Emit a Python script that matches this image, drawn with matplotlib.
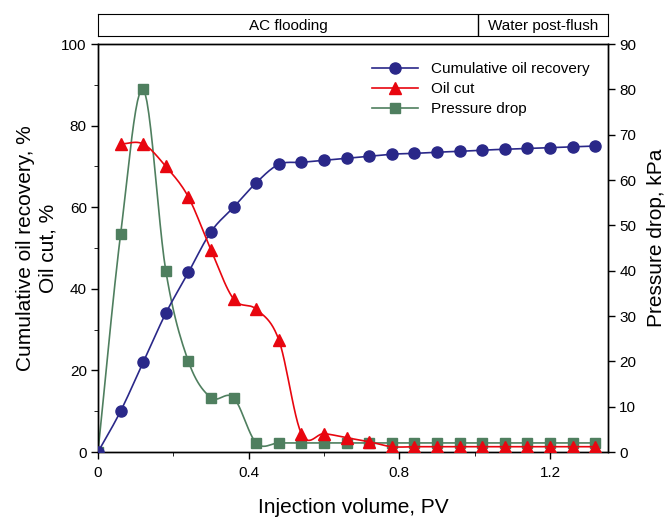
import matplotlib.pyplot as plt
import numpy as np
from matplotlib.lines import Line2D

plt.rcParams['font.family'] = ['Liberation Sans', 'DejaVu Sans']

pv = np.round(np.arange(23) * 0.06, 2)
recovery = [0, 10, 22, 34, 44, 54, 60, 66, 70.5, 71, 71.5, 72, 72.5, 73, 73.2,
            73.5, 73.7, 74, 74.2, 74.4, 74.6, 74.8, 75]
pv_cut = pv[1:]
oil_cut = [75.5, 75.5, 70, 62.5, 49.5, 37.5, 35, 27.5, 4.5, 4.5, 3.5, 2.5, 1.3,
           1.3, 1.3, 1.3, 1.3, 1.3, 1.3, 1.3, 1.3, 1.3]
pressure = [0, 48, 80, 40, 20, 12, 12, 2, 2, 2, 2, 2, 2, 2, 2, 2, 2, 2, 2, 2, 2, 2, 2]

navy = "#2a2889"
red = "#e8060f"
green = "#4f7f5f"


def smooth(x, y, n=12):
    # catmull-rom through the points, only for drawing the curve
    x = np.asarray(x, float)
    y = np.asarray(y, float)
    px = np.concatenate([[2 * x[0] - x[1]], x, [2 * x[-1] - x[-2]]])
    py = np.concatenate([[2 * y[0] - y[1]], y, [2 * y[-1] - y[-2]]])
    xs, ys = [], []
    t = np.linspace(0, 1, n, endpoint=False)
    for i in range(1, len(px) - 2):
        for p, out in ((px, xs), (py, ys)):
            p0, p1, p2, p3 = p[i - 1], p[i], p[i + 1], p[i + 2]
            out.extend(0.5 * ((2 * p1) + (-p0 + p2) * t +
                              (2 * p0 - 5 * p1 + 4 * p2 - p3) * t ** 2 +
                              (-p0 + 3 * p1 - 3 * p2 + p3) * t ** 3))
    xs.append(x[-1])
    ys.append(y[-1])
    return np.array(xs), np.array(ys)


fig = plt.figure(figsize=(6.72, 5.18), dpi=100)
ax = fig.add_axes([0.1458, 0.1274, 0.759, 0.7876])
ax2 = ax.twinx()

ax.plot(*smooth(pv, recovery), color=navy, lw=1.2, zorder=3)
ax.plot(pv, recovery, "o", color=navy, ms=8, zorder=4)
ax.plot(*smooth(pv_cut, oil_cut), color=red, lw=1.2, zorder=3)
ax.plot(pv_cut, oil_cut, "^", color=red, ms=9, zorder=4)
ax2.plot(*smooth(pv, pressure), color=green, lw=1.2)
ax2.plot(pv, pressure, "s", color=green, ms=7)

ax.set_zorder(ax2.get_zorder() + 1)
ax.patch.set_visible(False)

ax.set_xlim(0, 1.354)
ax.set_ylim(0, 100)
ax2.set_ylim(0, 90)
ax.set_xticks([0, 0.4, 0.8, 1.2])
ax.set_xticklabels(["0", "0.4", "0.8", "1.2"])
ax.set_xticks([0.2, 0.6, 1.0], minor=True)
ax.set_yticks(np.arange(0, 101, 20))
ax.set_yticks(np.arange(10, 100, 20), minor=True)
ax2.set_yticks(np.arange(0, 91, 10))
for a in (ax, ax2):
    a.tick_params(direction="out", labelsize=11, length=5, width=1, pad=3)
    a.tick_params(which="minor", direction="out", length=3)
    for s in a.spines.values():
        s.set_linewidth(1.0)
ax.tick_params(axis="x", pad=5)

# axis titles placed in figure pixels
fig.text(353 / 672, 1 / 518, "Injection volume, PV", fontsize=15,
         ha="center", va="bottom")
fig.text(37 / 672, 1 - 248 / 518, "Cumulative oil recovery, %\nOil cut, %",
         fontsize=15, rotation=90, ha="center", va="center",
         multialignment="center", linespacing=1.2)
fig.text(656 / 672, 1 - 238 / 518, "Pressure drop, kPa", fontsize=15,
         rotation=90, ha="center", va="center")

handles = [Line2D([], [], color=navy, marker="o", ms=8, lw=1.2),
           Line2D([], [], color=red, marker="^", ms=9, lw=1.2),
           Line2D([], [], color=green, marker="s", ms=7, lw=1.2)]
ax.legend(handles, ["Cumulative oil recovery", "Oil cut", "Pressure drop"],
          loc="upper right", bbox_to_anchor=(0.99, 0.99), frameon=False,
          fontsize=11, handlelength=3, labelspacing=0.4)

# stage band on top
band = fig.add_axes([0.1458, 0.9305, 0.759, 0.0425])
band.set_xlim(ax.get_xlim())
band.set_ylim(0, 1)
band.set_xticks([])
band.set_yticks([])
band.axvline(1.01, color="black", lw=1.0)
band.text(0.505, 0.45, "AC flooding", ha="center", va="center", fontsize=11)
band.text(1.182, 0.45, "Water post-flush", ha="center", va="center", fontsize=11)

fig.savefig("out.png", dpi=100)
